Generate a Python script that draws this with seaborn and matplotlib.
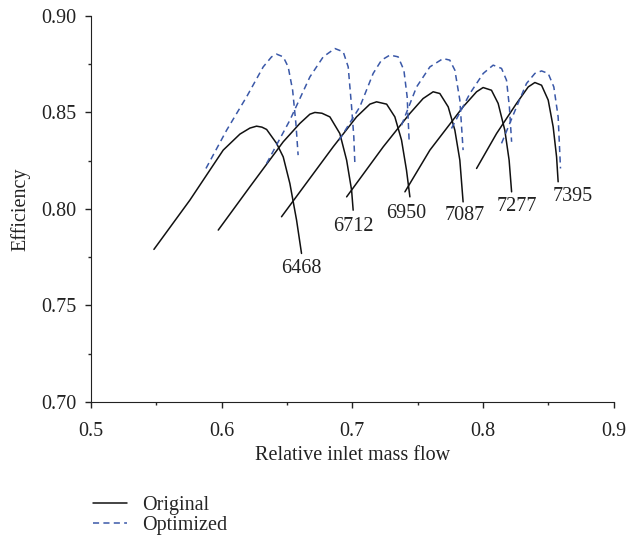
import pandas as pd
import matplotlib
matplotlib.use("Agg")
import matplotlib.pyplot as plt
import seaborn as sns
from matplotlib.lines import Line2D
from matplotlib.ticker import MultipleLocator

sns.set_style("ticks")
plt.rcParams['font.family'] = ['Liberation Serif', 'DejaVu Serif']

speeds = ["6468", "6712", "6950", "7087", "7277", "7395"]

# original curves
orig_x = {
    "6468": [0.5482, 0.5757, 0.6012, 0.6140, 0.6216, 0.6267, 0.6308, 0.6344, 0.6420, 0.6471, 0.6522, 0.6573, 0.6611],
    "6712": [0.5974, 0.6216, 0.6471, 0.6598, 0.6675, 0.6713, 0.6767, 0.6828, 0.6904, 0.6956, 0.6994, 0.7006],
    "6950": [0.6458, 0.6853, 0.7032, 0.7134, 0.7185, 0.7262, 0.7325, 0.7376, 0.7414, 0.7440],
    "7087": [0.6956, 0.7236, 0.7440, 0.7541, 0.7618, 0.7669, 0.7733, 0.7784, 0.7822, 0.7847],
    "7277": [0.7402, 0.7593, 0.7847, 0.7950, 0.8000, 0.8064, 0.8115, 0.8166, 0.8199, 0.8218],
    "7395": [0.7950, 0.8103, 0.8256, 0.8345, 0.8396, 0.8447, 0.8498, 0.8536, 0.8562, 0.8574],
}
orig_y = {
    "6468": [0.7790, 0.8045, 0.8304, 0.8387, 0.8418, 0.8428, 0.8423, 0.8411, 0.8339, 0.8269, 0.8131, 0.7942, 0.7769],
    "6712": [0.7890, 0.8114, 0.8347, 0.8442, 0.8490, 0.8499, 0.8495, 0.8476, 0.8390, 0.8252, 0.8097, 0.7993],
    "6950": [0.7959, 0.8321, 0.8476, 0.8542, 0.8554, 0.8542, 0.8476, 0.8356, 0.8200, 0.8062],
    "7087": [0.8062, 0.8321, 0.8494, 0.8571, 0.8606, 0.8597, 0.8528, 0.8407, 0.8252, 0.8036],
    "7277": [0.8088, 0.8304, 0.8528, 0.8606, 0.8628, 0.8614, 0.8546, 0.8407, 0.8252, 0.8088],
    "7395": [0.8209, 0.8390, 0.8546, 0.8631, 0.8654, 0.8640, 0.8563, 0.8424, 0.8269, 0.8140],
}

# optimized curves
opt_x = {
    "6468": [0.5880, 0.6038, 0.6191, 0.6318, 0.6382, 0.6420, 0.6471, 0.6509, 0.6543, 0.6568, 0.6585],
    "6712": [0.6344, 0.6522, 0.6675, 0.6777, 0.6866, 0.6930, 0.6968, 0.6994, 0.7011, 0.7019],
    "6950": [0.6899, 0.7057, 0.7159, 0.7223, 0.7287, 0.7350, 0.7394, 0.7419, 0.7434],
    "7087": [0.7376, 0.7491, 0.7593, 0.7694, 0.7745, 0.7784, 0.7822, 0.7847],
    "7277": [0.7758, 0.7899, 0.8001, 0.8077, 0.8141, 0.8179, 0.8201, 0.8218],
    "7395": [0.8141, 0.8256, 0.8332, 0.8396, 0.8447, 0.8498, 0.8541, 0.8574, 0.8592],
}
opt_y = {
    "6468": [0.8209, 0.8407, 0.8580, 0.8735, 0.8787, 0.8801, 0.8787, 0.8735, 0.8614, 0.8442, 0.8278],
    "6712": [0.8235, 0.8459, 0.8683, 0.8787, 0.8830, 0.8813, 0.8735, 0.8528, 0.8373, 0.8235],
    "6950": [0.8356, 0.8528, 0.8701, 0.8770, 0.8796, 0.8787, 0.8718, 0.8580, 0.8356],
    "7087": [0.8433, 0.8631, 0.8735, 0.8778, 0.8770, 0.8718, 0.8563, 0.8304],
    "7277": [0.8416, 0.8597, 0.8701, 0.8744, 0.8727, 0.8666, 0.8528, 0.8347],
    "7395": [0.8339, 0.8528, 0.8649, 0.8701, 0.8714, 0.8701, 0.8631, 0.8476, 0.8209],
}

rows = []
for s in speeds:
    for x, y in zip(orig_x[s], orig_y[s]):
        rows.append({"flow": x, "eff": y, "speed": s, "design": "Original"})
    for x, y in zip(opt_x[s], opt_y[s]):
        rows.append({"flow": x, "eff": y, "speed": s, "design": "Optimized"})
df = pd.DataFrame(rows)

fig = plt.figure(figsize=(6.27, 5.41), dpi=100)
ax = fig.add_axes([0.145, 0.257, 0.834, 0.714])

pal = {"Original": "#111111", "Optimized": "#3a58a8"}
sns.lineplot(data=df, x="flow", y="eff", hue="design", style="design",
             units="speed", estimator=None, sort=False, palette=pal,
             dashes={"Original": "", "Optimized": (4, 2.8)},
             linewidth=1.1, legend=False, ax=ax)

# speed labels, nudged from the end of each original curve (dx, dy in data units)
lab_off = {"6468": (0.0, -0.0076), "6712": (0.0, -0.0086), "6950": (-0.0025, -0.0086),
           "7087": (0.0013, -0.0069), "7277": (0.004, -0.0078), "7395": (0.011, -0.0074)}
for s in speeds:
    dx, dy = lab_off[s]
    ax.text(orig_x[s][-1] + dx, orig_y[s][-1] + dy, s, ha="center", va="center",
            fontsize=14.5, color="#222222")

ax.set_xlim(0.5, 0.9)
ax.set_ylim(0.70, 0.90)
ax.xaxis.set_major_locator(MultipleLocator(0.1))
ax.xaxis.set_minor_locator(MultipleLocator(0.05))
ax.yaxis.set_major_locator(MultipleLocator(0.05))
ax.yaxis.set_minor_locator(MultipleLocator(0.025))
ax.set_xticklabels([f"{v:.1f}" for v in ax.get_xticks()])
ax.set_yticklabels([f"{v:.2f}" for v in ax.get_yticks()])
ax.tick_params(which="major", direction="out", length=4.3, width=1, labelsize=14.5,
               colors="#222222", pad=6)
ax.tick_params(axis="x", which="major", pad=10)
ax.tick_params(which="minor", direction="out", length=2.5, width=1)
for sp in ax.spines.values():
    sp.set_color("#222222")
sns.despine(ax=ax)
ax.set_xlabel("Relative inlet mass flow", fontsize=14.5, color="#222222", labelpad=4)
ax.set_ylabel("Efficiency", fontsize=14.5, color="#222222", labelpad=8)

handles = [Line2D([], [], color=pal["Original"], lw=1.1),
           Line2D([], [], color=pal["Optimized"], lw=1.1, dashes=(4, 2.8))]
fig.legend(handles, ["Original", "Optimized"], loc="upper left",
           bbox_to_anchor=(0.148, 0.0841), frameon=False, fontsize=14.5,
           handlelength=1.7, handletextpad=0.75, labelspacing=0.08,
           borderpad=0, borderaxespad=0)

fig.savefig("out.png", dpi=100)
